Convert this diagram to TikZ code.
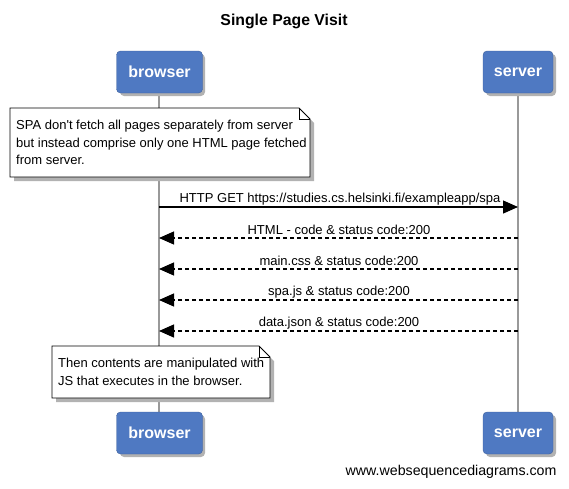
\documentclass[tikz,border=0pt]{standalone}
\usepackage{fontspec}
\setmainfont{Liberation Sans}
\usetikzlibrary{arrows.meta,positioning}
\definecolor{actorblue}{HTML}{4F79C2}
\definecolor{lifegray}{HTML}{999999}
\tikzset{
  actor/.style={draw=actorblue!80!black, fill=actorblue, rounded corners=4pt, minimum width=86pt, minimum height=42pt, text=white, font=\fontsize{16}{18}\selectfont\bfseries, inner sep=0pt},
  actorS/.style={actor, minimum width=70pt},
  shadowbox/.style={fill=black!30, rounded corners=4pt},
  lifeline/.style={draw=lifegray, line width=1.6pt},
  msg/.style={line width=1.2pt, -{Triangle[length=15pt,width=13pt]}},
  reply/.style={msg, dashed, dash pattern=on 4pt off 3pt},
  lbl/.style={font=\fontsize{13}{15}\selectfont, inner sep=0pt},
  notetext/.style={font=\fontsize{13}{17.5}\selectfont, align=left, anchor=north west, inner sep=0pt},
}
\begin{document}
\begin{tikzpicture}[x=1pt,y=-1pt]
\useasboundingbox (0,0) rectangle (569,488);
% title
\node[font=\fontsize{15.8}{18}\selectfont\bfseries] (title) at (284,21) {Single Page Visit};
% lifelines
\coordinate (bT) at (159,93); \coordinate (bB) at (159,412);
\coordinate (sT) at (518,93); \coordinate (sB) at (518,412);
\draw[lifeline] (bT) -- (bB);
\draw[lifeline] (sT) -- (sB);
% actor shadows
\fill[shadowbox] (120,54) rectangle (205,96);
\fill[shadowbox] (486,54) rectangle (556,96);
\fill[shadowbox] (120,415) rectangle (205,457);
\fill[shadowbox] (486,415) rectangle (556,457);
% actors
\node[actor] (b1) at (159.5,72) {browser};
\node[actorS] (s1) at (518,72) {server};
\node[actor] (b2) at (159.5,433) {browser};
\node[actorS] (s2) at (518,433) {server};
% note 1
\fill[black!30] (14,112) -- (303,112) -- (314,123) -- (314,181) -- (14,181) -- cycle;
\draw[fill=white, line width=0.8pt] (10,108) -- (299,108) -- (310,119) -- (310,177) -- (10,177) -- cycle;
\draw[line width=0.8pt] (299,108) -- (299,119) -- (310,119);
\node[notetext] (n1) at (16,120) {SPA don{\textquotesingle}t fetch all pages separately from server\\but instead comprise only one HTML page fetched\\from server.};
% note 2
\fill[black!30] (56,350) -- (263,350) -- (274,361) -- (274,402) -- (56,402) -- cycle;
\draw[fill=white, line width=0.8pt] (52,346) -- (259,346) -- (270,357) -- (270,398) -- (52,398) -- cycle;
\draw[line width=0.8pt] (259,346) -- (259,357) -- (270,357);
\node[notetext] (n2) at (58,358) {Then contents are manipulated with\\JS that executes in the browser.};
% messages
\coordinate (m1a) at (159,207); \coordinate (m1b) at (518,207);
\draw[msg] (m1a) -- (m1b);
\node[lbl] (l1) at (340,199) {HTTP GET https://studies.cs.helsinki.fi/exampleapp/spa};
\coordinate (m2a) at (518,238); \coordinate (m2b) at (159,238);
\draw[reply] (m2a) -- (m2b);
\node[lbl] (l2) at (339,230) {HTML - code \& status code:200};
\coordinate (m3a) at (518,269); \coordinate (m3b) at (159,269);
\draw[reply] (m3a) -- (m3b);
\node[lbl] (l3) at (339,261) {main.css \& status code:200};
\coordinate (m4a) at (518,300); \coordinate (m4b) at (159,300);
\draw[reply] (m4a) -- (m4b);
\node[lbl] (l4) at (339,292) {spa.js \& status code:200};
\coordinate (m5a) at (518,331); \coordinate (m5b) at (159,331);
\draw[reply] (m5a) -- (m5b);
\node[lbl] (l5) at (339,323) {data.json \& status code:200};
% footer
\node[font=\fontsize{14.2}{16}\selectfont, anchor=east] (web) at (560,472) {www.websequencediagrams.com};
\end{tikzpicture}
\end{document}
